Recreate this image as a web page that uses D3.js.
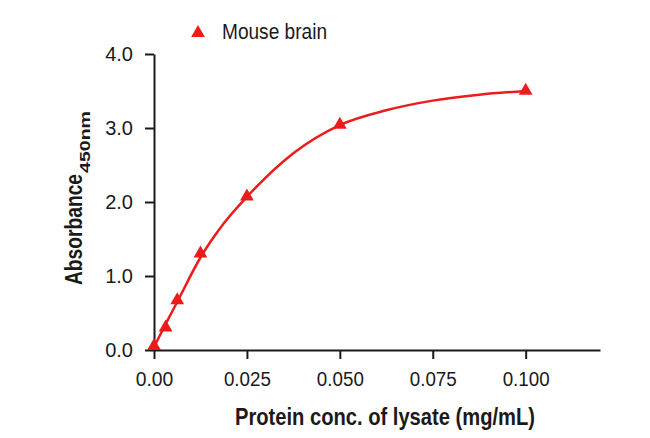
<!DOCTYPE html>
<html>
<head>
<meta charset="utf-8">
<script src="https://cdn.jsdelivr.net/npm/d3@7"></script>
<style>
body { margin: 0; background: #fff; }
text { font-family: "Liberation Sans", Arial, sans-serif; }
</style>
</head>
<body>
<svg id="chart" width="650" height="438"></svg>
<script>
// measured points
var conc = [0, 0.003125, 0.00625, 0.0125, 0.025, 0.05, 0.1];
var absorbance = [0.04, 0.29, 0.66, 1.29, 2.06, 3.03, 3.49];
// fitted curve
var fitConc = [0, 0.003125, 0.00625, 0.0125, 0.01875, 0.025, 0.0375, 0.05, 0.0625, 0.075, 0.0875, 0.1];
var fitAbs = [0.04, 0.35, 0.65, 1.25, 1.71, 2.07, 2.66, 3.04, 3.24, 3.37, 3.45, 3.50];
var xTicks = [0, 0.025, 0.05, 0.075, 0.1];
var xTickLabels = ["0.00", "0.025", "0.050", "0.075", "0.100"];
var yTicks = [0, 1, 2, 3, 4];
var seriesName = "Mouse brain";

var svg = d3.select("#chart");
var red = "#ec1c1c";
var ink = "#1a1a1a";

var x = d3.scaleLinear().domain([0, 0.12]).range([154, 600]);
var y = d3.scaleLinear().domain([0, 4]).range([350, 54]);

var data = conc.map(function(c, i) {
	return {x: c, y: absorbance[i]};
});
var fit = fitConc.map(function(c, i) {
	return {x: c, y: fitAbs[i]};
});

/* AXES */
var xAxis = svg.append("g")
	.attr("transform", "translate(0," + y(0) + ")")
	.call(d3.axisBottom(x)
		.tickValues(xTicks)
		.tickFormat(function(d, i) { return xTickLabels[i]; })
		.tickSize(9)
		.tickPadding(13)
		.tickSizeOuter(0));

var yAxis = svg.append("g")
	.attr("transform", "translate(" + x(0) + ",0)")
	.call(d3.axisLeft(y)
		.tickValues(yTicks)
		.tickFormat(d3.format(".1f"))
		.tickSize(9)
		.tickPadding(12)
		.tickSizeOuter(0));

[xAxis, yAxis].forEach(function(g) {
	g.select(".domain").attr("stroke", ink).attr("stroke-width", 2);
	g.selectAll(".tick line").attr("stroke", ink).attr("stroke-width", 2);
	g.selectAll(".tick text")
		.attr("fill", ink)
		.attr("font-size", "20px")
		.style("font-family", "\"Liberation Sans\", Arial, sans-serif");
});

xAxis.selectAll(".tick text")
	.attr("textLength", function(d, i) { return xTickLabels[i].length * 9.4; })
	.attr("lengthAdjust", "spacingAndGlyphs");

/* CURVE */
var line = d3.line()
	.x(function(d) { return x(d.x); })
	.y(function(d) { return y(d.y); })
	.curve(d3.curveMonotoneX);

svg.append("path")
	.datum(fit)
	.attr("d", line)
	.attr("fill", "none")
	.attr("stroke", red)
	.attr("stroke-width", 2.5);

/* POINTS */
var tri = d3.symbol().type(d3.symbolTriangle).size(82);

svg.selectAll("path.pt")
	.data(data)
	.enter()
	.append("path")
	.attr("class", "pt")
	.attr("d", tri)
	.attr("fill", red)
	.attr("transform", function(d) {
		return "translate(" + x(d.x) + "," + (y(d.y) - 1) + ")";
	});

/* LEGEND */
svg.append("path")
	.attr("d", tri)
	.attr("fill", red)
	.attr("transform", "translate(198,33)");

svg.append("text")
	.attr("x", 222)
	.attr("y", 39)
	.attr("font-size", "22px")
	.attr("textLength", 105)
	.attr("lengthAdjust", "spacingAndGlyphs")
	.attr("fill", ink)
	.text(seriesName);

/* TITLES */
svg.append("text")
	.attr("x", 235)
	.attr("y", 425)
	.attr("font-size", "23px")
	.attr("font-weight", "bold")
	.attr("textLength", 300)
	.attr("lengthAdjust", "spacingAndGlyphs")
	.attr("fill", ink)
	.text("Protein conc. of lysate (mg/mL)");

svg.append("text")
	.attr("transform", "translate(82,285) rotate(-90)")
	.attr("font-size", "23px")
	.attr("font-weight", "bold")
	.attr("textLength", 111)
	.attr("lengthAdjust", "spacingAndGlyphs")
	.attr("fill", ink)
	.text("Absorbance");

svg.append("text")
	.attr("transform", "translate(90,173) rotate(-90)")
	.attr("font-size", "14.5px")
	.attr("font-weight", "bold")
	.attr("textLength", 62)
	.attr("lengthAdjust", "spacingAndGlyphs")
	.attr("fill", ink)
	.text("450nm");
</script>
</body>
</html>
